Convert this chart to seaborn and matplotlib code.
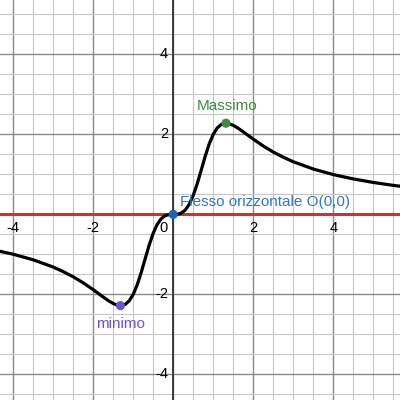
import matplotlib
matplotlib.use("Agg")
import matplotlib.pyplot as plt
from matplotlib.ticker import MultipleLocator
import seaborn as sns
import pandas as pd

# ---- data ----
curve_x = [-4.4, -4.0, -3.5, -3.0, -2.75, -2.5, -2.25, -2.0, -1.9, -1.8, -1.7, -1.6, -1.5,
           -1.4, -1.3, -1.2, -1.1, -1.0, -0.9, -0.8, -0.7, -0.6, -0.5, -0.4, -0.3, -0.2,
           -0.1, 0.0, 0.1, 0.2, 0.3, 0.4, 0.5, 0.6, 0.7, 0.8, 0.9, 1.0, 1.1, 1.2, 1.3,
           1.4, 1.5, 1.6, 1.7, 1.8, 1.9, 2.0, 2.25, 2.5, 2.75, 3.0, 3.5, 4.0, 4.5, 5.0,
           5.5, 5.7]
curve_y = [-0.907, -0.996, -1.135, -1.317, -1.430, -1.560, -1.711, -1.882, -1.956, -2.029,
           -2.101, -2.169, -2.227, -2.267, -2.279, -2.249, -2.161, -2.000, -1.761, -1.453,
           -1.106, -0.765, -0.471, -0.250, -0.107, -0.032, -0.004, 0.0, 0.004, 0.032,
           0.107, 0.250, 0.471, 0.765, 1.106, 1.453, 1.761, 2.000, 2.161, 2.249, 2.279,
           2.267, 2.227, 2.169, 2.101, 2.029, 1.956, 1.882, 1.711, 1.560, 1.430, 1.317,
           1.135, 0.996, 0.887, 0.799, 0.726, 0.701]

point_names = ["Massimo", "minimo", "Flesso orizzontale O(0,0)"]
point_x = [1.32, -1.32, 0.0]
point_y = [2.28, -2.28, 0.0]
point_colors = ["#388E3C", "#6557D2", "#1565C0"]

tangent_y = 0.0

x_tick_vals = [-4, -2, 2, 4]
y_tick_vals = [-4, -2, 2, 4]

# ---- figure ----
sns.set_theme(style="white")
plt.rcParams["font.family"] = ["Liberation Sans", "DejaVu Sans"]

fig = plt.figure(figsize=(4, 4), dpi=100)
ax = fig.add_axes([0, 0, 1, 1])

# grid
ax.xaxis.set_major_locator(MultipleLocator(2))
ax.yaxis.set_major_locator(MultipleLocator(2))
ax.xaxis.set_minor_locator(MultipleLocator(0.5))
ax.yaxis.set_minor_locator(MultipleLocator(0.5))
ax.grid(which="minor", color="#c6c6c6", linewidth=0.8, zorder=0)
ax.grid(which="major", color="#8a8a8a", linewidth=1.0, zorder=0)
ax.set_axisbelow(True)
ax.tick_params(which="both", length=0, labelbottom=False, labelleft=False)
for s in ax.spines.values():
    s.set_visible(False)

# y axis
ax.axvline(0, color="#3a3a3a", linewidth=1.4, zorder=1)

# tick labels
for v in x_tick_vals:
    ax.text(v, -0.17, f"{v}", ha="center", va="top", fontsize=10.5,
            color="black", zorder=6)
for v in y_tick_vals:
    ax.text(-0.13, v, f"{v}", ha="right", va="center", fontsize=10.5,
            color="black", zorder=6)
ax.text(-0.24, -0.17, "0", ha="center", va="top", fontsize=10.5, color="black", zorder=6)

# tangent line (red)
ax.axhline(tangent_y, color="#D32F2F", linewidth=2.2, zorder=2)

# curve
df = pd.DataFrame({"x": curve_x, "y": curve_y})
sns.lineplot(data=df, x="x", y="y", ax=ax, color="black", linewidth=2.3,
             sort=False, estimator=None, zorder=3)

# points
pts = pd.DataFrame({"x": point_x, "y": point_y, "name": point_names})
sns.scatterplot(data=pts, x="x", y="y", hue="name",
                palette=dict(zip(point_names, point_colors)),
                s=44, linewidth=0, ax=ax, legend=False, zorder=5)

# labels
ax.text(0.58, 2.61, point_names[0], color=point_colors[0], fontsize=11,
        ha="left", va="baseline", zorder=6)
ax.text(-1.94, -2.83, point_names[1], color=point_colors[1], fontsize=11,
        ha="left", va="baseline", zorder=6)
ax.text(0.17, 0.21, point_names[2], color="#2F78C4", fontsize=11,
        ha="left", va="baseline", zorder=6)

ax.set_xlim(-4.33, 5.67)
ax.set_ylim(-4.64, 5.36)
ax.set_xlabel("")
ax.set_ylabel("")

fig.savefig("out.png", dpi=100)
